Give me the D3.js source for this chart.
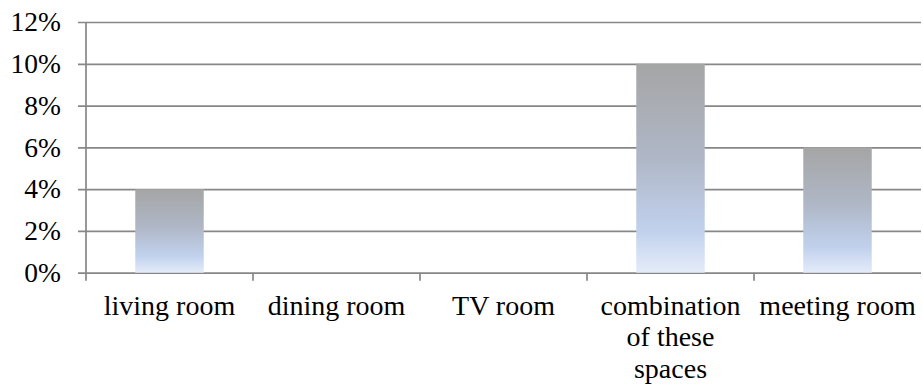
<!DOCTYPE html>
<html>
<head>
<meta charset="utf-8">
<script src="https://cdn.jsdelivr.net/npm/d3@7"></script>
<style>
  html, body { margin: 0; padding: 0; background: #fff; }
  svg { display: block; }
  text { font-family: "Liberation Serif", "DejaVu Serif", serif; fill: #000; }
</style>
</head>
<body>
<svg id="chart" width="923" height="385"></svg>
<script>
// Share of respondents per room type
const categories = ["living room", "dining room", "TV room", "combination of these spaces", "meeting room"];
const values = [0.04, 0, 0, 0.10, 0.06];
const yTicks = [0, 0.02, 0.04, 0.06, 0.08, 0.10, 0.12];

// Category labels wrapped onto lines
const labelLines = [["living room"], ["dining room"], ["TV room"], ["combination", "of these", "spaces"], ["meeting room"]];

const W = 923, H = 385;
const margin = { left: 86, right: 2, top: 22, bottom: 112 };
const svg = d3.select("#chart");

const x = d3.scaleBand()
  .domain(categories)
  .range([margin.left, W - margin.right])
  .paddingInner(0.59)
  .paddingOuter(0.295);

const band = d3.scaleBand().domain(categories).range([margin.left, W - margin.right]);

const y = d3.scaleLinear()
  .domain([0, 0.12])
  .range([H - margin.bottom - 0.3, margin.top]);

// Bar fill: gray at the top fading into light blue at the base
const grad = svg.append("defs").append("linearGradient")
  .attr("id", "barFill")
  .attr("x1", 0).attr("y1", 0).attr("x2", 0).attr("y2", 1);
[[0, "#a5a5a5"], [0.45, "#afb7c6"], [0.8, "#c1d1ed"], [1, "#e4ecf9"]].forEach(([o, c]) =>
  grad.append("stop").attr("offset", o).attr("stop-color", c));

const gridColor = "#878787";
const gridWidth = 1.7;

// Horizontal gridlines with left tick marks
const yAxis = d3.axisLeft(y)
  .tickValues(yTicks)
  .tickFormat(d3.format(".0%"))
  .tickSize(-(W - margin.right - margin.left + 8))
  .tickPadding(17);

const gy = svg.append("g")
  .attr("transform", `translate(${margin.left - 8},0)`)
  .call(yAxis);
gy.select(".domain").remove();
gy.selectAll(".tick line").attr("stroke", gridColor).attr("stroke-width", gridWidth)
  .attr("x1", 0).attr("x2", W - margin.right - margin.left + 8);
gy.selectAll(".tick text")
  .attr("x", -17)
  .style("font-size", "27.5px")
  .style("font-family", "Liberation Serif, serif")
  .attr("fill", "#000");

// Bars
svg.append("g").selectAll("rect")
  .data(categories.map((c, i) => ({ c, v: values[i] })).filter(d => d.v > 0))
  .join("rect")
  .attr("x", d => x(d.c))
  .attr("width", x.bandwidth())
  .attr("y", d => y(d.v))
  .attr("height", d => y(0) - y(d.v))
  .attr("fill", "url(#barFill)");

// Vertical value axis line
svg.append("line")
  .attr("x1", margin.left).attr("x2", margin.left)
  .attr("y1", y(0.12)).attr("y2", y(0) + 8)
  .attr("stroke", gridColor).attr("stroke-width", gridWidth);

// Category axis: boundary ticks between bands
const bounds = categories.map(c => band(c)).concat([band(categories[categories.length - 1]) + band.bandwidth()]);
svg.append("g").selectAll("line")
  .data(bounds.slice(1, -1))
  .join("line")
  .attr("x1", d => d).attr("x2", d => d)
  .attr("y1", y(0)).attr("y2", y(0) + 8)
  .attr("stroke", gridColor).attr("stroke-width", gridWidth);

// Category labels
const lab = svg.append("g").selectAll("text")
  .data(categories.map((c, i) => ({ c, lines: labelLines[i] })))
  .join("text")
  .attr("text-anchor", "middle")
  .style("font-size", "28px")
  .attr("transform", d => `translate(${band(d.c) + band.bandwidth() / 2},${y(0) + 42})`);
lab.selectAll("tspan")
  .data(d => d.lines)
  .join("tspan")
  .attr("x", 0)
  .attr("y", (d, i) => i * 31.5)
  .text(d => d);
</script>
</body>
</html>
